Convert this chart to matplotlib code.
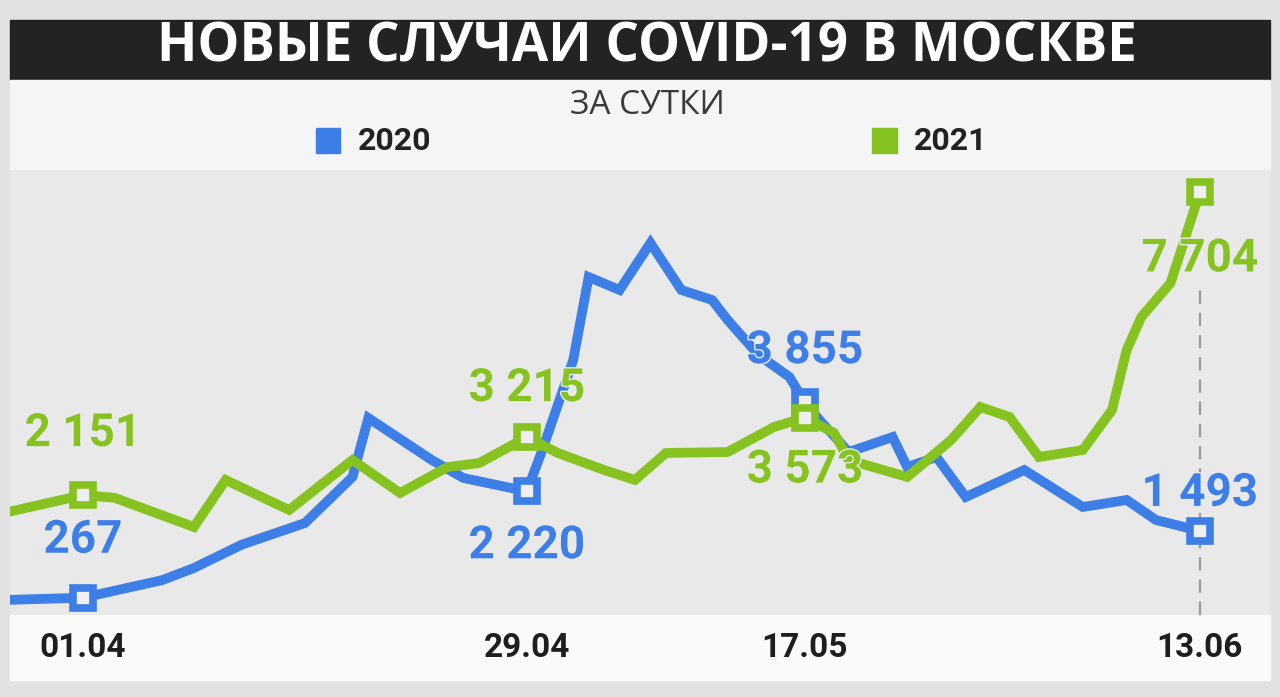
import numpy as np
import matplotlib
matplotlib.use('Agg')
import matplotlib.pyplot as plt
import matplotlib.patheffects as pe
from matplotlib.patches import Rectangle

plt.rcParams['font.family'] = ['Roboto', 'DejaVu Sans']

# day numbers counted from 01.04
days_2020 = [-5, 0, 5, 7, 10, 14, 17, 18, 22, 24, 28, 29, 31, 32, 34, 36, 38, 40, 41, 43, 45,
             46, 47, 49, 52, 53, 55, 57, 61, 65, 68, 70, 73]
cases_2020 = [225, 267, 590, 813, 1239, 1638, 2483, 3565, 2794, 2464, 2220, 2978, 4629, 6152, 5914,
              6776, 5914, 5730, 5363, 4721, 4318, 3855, 3528, 2941, 3216, 2666, 2849, 2115, 2611,
              1932, 2061, 1694, 1493]

days_2021 = [-5, 0, 2, 7, 9, 13, 17, 20, 23, 25, 28, 30, 33, 35, 37, 41, 44, 46, 48, 49, 53, 56,
             58, 60, 62, 65, 67, 68, 69, 71, 73]
cases_2021 = [1822, 2151, 2100, 1565, 2428, 1877, 2794, 2189, 2666, 2739, 3215, 2923, 2611, 2428,
              2923, 2941, 3400, 3573, 3290, 2794, 2483, 3162, 3767, 3583, 2849, 2978, 3712, 4813,
              5418, 6042, 7704]

tick_days = [0, 28, 46, 73]
tick_labels = ["01.04", "29.04", "17.05", "13.06"]

labels_2020 = ["267", "2 220", "3 855", "1 493"]
labels_2021 = ["2 151", "3 215", "3 573", "7 704"]

title = "НОВЫЕ СЛУЧАИ COVID-19 В МОСКВЕ"
subtitle = "ЗА СУТКИ"
series_names = ["2020", "2021"]

BLUE = '#3d7fe6'
GREEN = '#86c320'

W, H = 1280, 697
def fx(px):
    return px / W
def fy(py):
    return 1 - py / H

fig = plt.figure(figsize=(12.8, 6.97), dpi=100)
fig.patch.set_facecolor('#e2e2e2')

# background bands (behind the axes)
fig.patches.append(Rectangle((fx(10), fy(80)), 1260 / W, 60 / H, transform=fig.transFigure,
                             color='#232323', zorder=-2))
fig.patches.append(Rectangle((fx(10), fy(170)), 1260 / W, 90 / H, transform=fig.transFigure,
                             color='#f5f5f5', zorder=-2))
fig.patches.append(Rectangle((fx(10), fy(680)), 1260 / W, 65 / H, transform=fig.transFigure,
                             color='#fafafa', zorder=-2))

fig.text(fx(647), fy(47), title, color='white', fontsize=38, fontweight='bold',
         family=['Open Sans', 'DejaVu Sans'], ha='center', va='center')
fig.text(fx(647), fy(106), subtitle, color='#3a3a3a', fontsize=24,
         family=['Open Sans', 'DejaVu Sans'], ha='center', va='center')

# legend
fig.patches.append(Rectangle((fx(316), fy(153)), 24 / W, 25 / H, transform=fig.transFigure,
                             color=BLUE))
fig.patches.append(Rectangle((fx(872), fy(153)), 25 / W, 25 / H, transform=fig.transFigure,
                             color=GREEN))
fig.text(fx(358), fy(141), series_names[0], fontsize=23, fontweight='bold', color='#222222',
         ha='left', va='center')
fig.text(fx(914), fy(141), series_names[1], fontsize=23, fontweight='bold', color='#222222',
         ha='left', va='center')

ax = fig.add_axes([fx(10), fy(615), 1260 / W, 445 / H])
ax.set_facecolor('#e9e9e9')

# uneven date spacing on the original graphic
anchor_days = np.array([-10, 0, 28, 46, 73, 90])
anchor_px = np.array([-75.6, 83, 527, 805, 1200, 1448.7])
def fwd(d):
    return np.interp(d, anchor_days, anchor_px)
def inv(p):
    return np.interp(p, anchor_px, anchor_days)
ax.set_xscale('function', functions=(fwd, inv))
ax.set_xlim(-4.6, 77.8)
ax.set_ylim(-50, 8116)

ax.axvline(73, ymin=0, ymax=0.73, color='#9a9a9a', lw=1.6, ls=(0, (6, 4)), zorder=1)

mark_2020 = [days_2020.index(d) for d in tick_days]
mark_2021 = [days_2021.index(d) for d in tick_days]

ax.plot(days_2021, cases_2021, color=GREEN, lw=7, solid_joinstyle='miter', zorder=3,
        marker='s', markevery=mark_2021, ms=15, mew=5.5, mfc='#efefef', mec=GREEN)
ax.plot(days_2020, cases_2020, color=BLUE, lw=7, solid_joinstyle='miter', zorder=2,
        marker='s', markevery=mark_2020, ms=15, mew=5.5, mfc='#efefef', mec=BLUE)

halo = [pe.withStroke(linewidth=2, foreground='#e9e9e9')]
offs_2020 = [58, -54, 52, 38]
offs_2021 = [62, 49, -52, -66]
for d, lab, off in zip(tick_days, labels_2020, offs_2020):
    ax.annotate(lab, (d, cases_2020[days_2020.index(d)]), xytext=(0, off),
                textcoords='offset pixels', ha='center', va='center', color=BLUE,
                fontsize=33, fontweight='bold', zorder=5, path_effects=halo)
for d, lab, off in zip(tick_days, labels_2021, offs_2021):
    ax.annotate(lab, (d, cases_2021[days_2021.index(d)]), xytext=(0, off),
                textcoords='offset pixels', ha='center', va='center', color=GREEN,
                fontsize=33, fontweight='bold', zorder=5, path_effects=halo)

ax.set_xticks(tick_days)
ax.set_xticklabels(tick_labels, fontsize=24, fontweight='bold', color='#1e1e1e')
ax.tick_params(axis='x', length=0, pad=12)
ax.set_yticks([])
for s in ax.spines.values():
    s.set_visible(False)

fig.savefig('out.png', dpi=100, facecolor=fig.get_facecolor())
